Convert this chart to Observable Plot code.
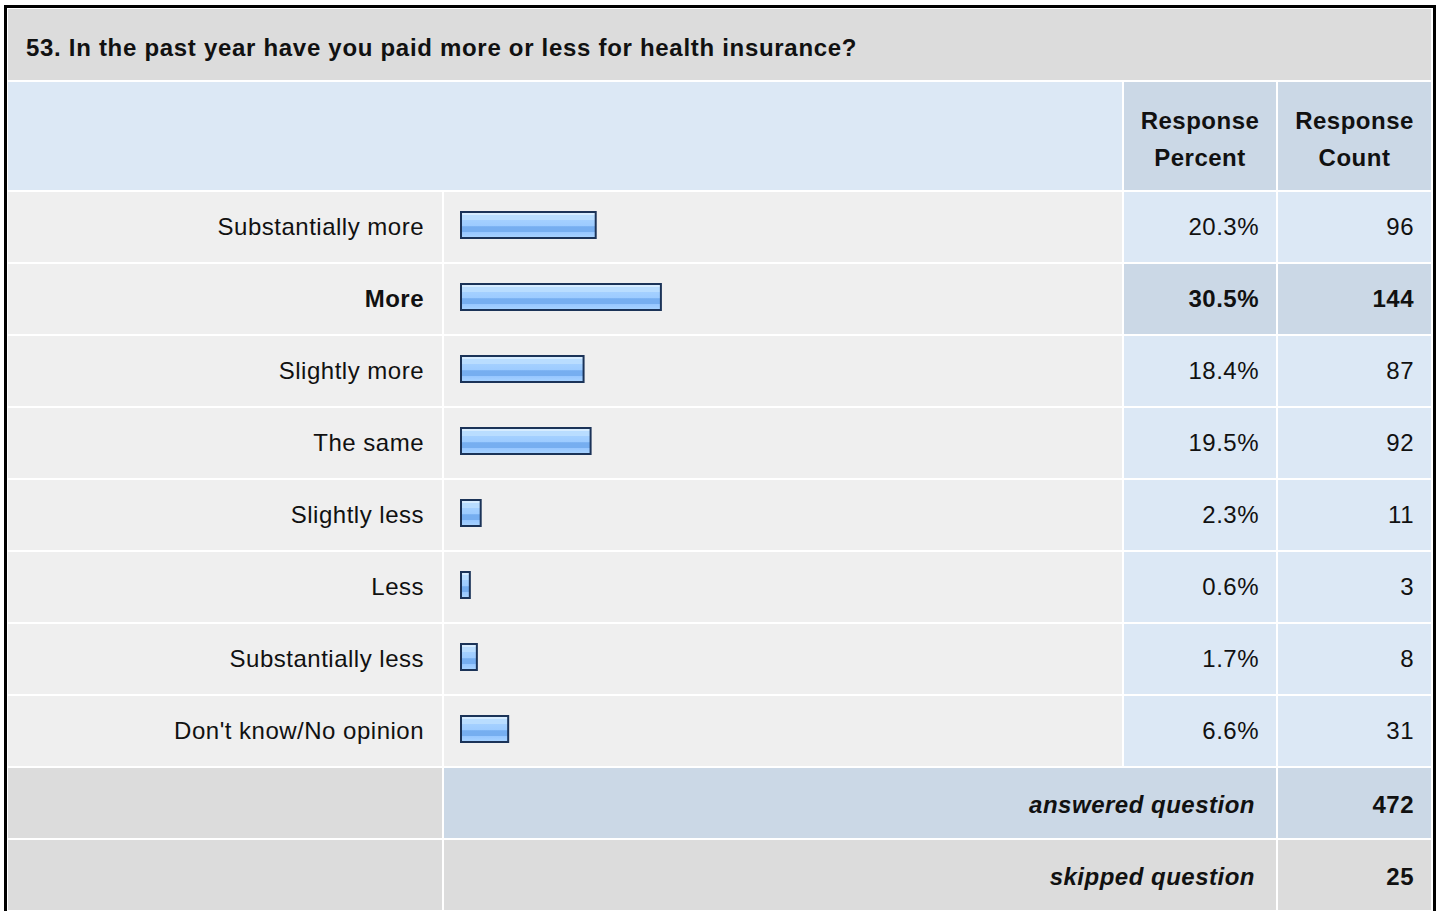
<!DOCTYPE html>
<html>
<head>
<meta charset="utf-8">
<script src="https://cdn.jsdelivr.net/npm/d3@7"></script>
<script src="https://cdn.jsdelivr.net/npm/@observablehq/plot@0.6"></script>
<style>
  html, body { margin: 0; padding: 0; background: #ffffff; overflow: hidden; width: 1440px; height: 911px; }
  body { font-family: "Liberation Sans", Arial, sans-serif; color: #111; }
  #frame { position: absolute; left: 4px; top: 5px; width: 1426px; height: 1000px; border: 3px solid #000; background: #fff; }
  #grid { position: absolute; left: 1px; top: 1px; display: grid;
          grid-template-columns: 434px 678px 152px 153px;
          grid-template-rows: 71px 108px repeat(10, 70px);
          gap: 2px; }
  .cell { box-sizing: border-box; display: flex; align-items: center; font-size: 24px; letter-spacing: 0.5px; }
  .title { grid-column: 1 / 5; background: #dcdcdc; font-weight: bold; padding-left: 18px; padding-top: 6px; letter-spacing: 0.7px; }
  .hblank { grid-column: 1 / 3; background: #dce8f5; }
  .hcol { background: #cbd8e6; font-weight: bold; justify-content: center; text-align: center; line-height: 37px; padding-top: 5px; }
  .label { background: #efefef; justify-content: flex-end; padding-right: 18px; }
  .barcell { background: #efefef; }
  .num { background: #dce8f5; justify-content: flex-end; padding-right: 17px; }
  .hl { background: #cbd8e6; font-weight: bold; }
  .bold { font-weight: bold; }
  .sumlabel { grid-column: 2 / 4; justify-content: flex-end; padding-right: 21px; font-weight: bold; font-style: italic; padding-top: 4px; }
  .sumnum { justify-content: flex-end; padding-right: 17px; font-weight: bold; padding-top: 4px; }
  .grey { background: #dcdcdc; }
  .blue { background: #cbd8e6; }
  #bars { position: absolute; left: 437px; top: 184px; }
</style>
</head>
<body>
<div id="frame">
  <div id="grid"></div>
  <div id="bars"></div>
</div>
<script>
const questionTitle = "53. In the past year have you paid more or less for health insurance?";
const headerPercent = ["Response", "Percent"];
const headerCount = ["Response", "Count"];
const categories = ["Substantially more", "More", "Slightly more", "The same", "Slightly less", "Less", "Substantially less", "Don't know/No opinion"];
const percents = [20.3, 30.5, 18.4, 19.5, 2.3, 0.6, 1.7, 6.6];
const counts = [96, 144, 87, 92, 11, 3, 8, 31];
const highlightedCategory = "More";
const answeredLabel = "answered question";
const answeredCount = 472;
const skippedLabel = "skipped question";
const skippedCount = 25;

const data = categories.map((c, i) => ({label: c, percent: percents[i], count: counts[i]}));

const grid = document.getElementById("grid");
function cell(cls, html) {
  const d = document.createElement("div");
  d.className = "cell " + cls;
  d.innerHTML = html;
  grid.appendChild(d);
  return d;
}
function esc(s) { return String(s).replace(/&/g, "&amp;").replace(/</g, "&lt;"); }

cell("title", esc(questionTitle));
cell("hblank", "");
cell("hcol", headerPercent.map(esc).join("<br>"));
cell("hcol", headerCount.map(esc).join("<br>"));
for (const d of data) {
  const hl = d.label === highlightedCategory;
  cell("label" + (hl ? " bold" : ""), esc(d.label));
  cell("barcell", "");
  cell("num" + (hl ? " hl" : ""), d.percent.toFixed(1) + "%");
  cell("num" + (hl ? " hl" : ""), String(d.count));
}
cell("grey", "");
cell("sumlabel blue", esc(answeredLabel));
cell("sumnum blue", String(answeredCount));
cell("grey", "");
cell("sumlabel grey", esc(skippedLabel));
cell("sumnum grey", String(skippedCount));

const chart = Plot.plot({
  width: 678,
  height: 574,
  marginLeft: 16,
  marginRight: 23,
  marginTop: 0,
  marginBottom: 0,
  x: {domain: [0, 100], axis: null},
  y: {domain: categories, axis: null, paddingInner: 2 / 72, paddingOuter: 0, round: false},
  style: {background: "transparent", overflow: "visible"},
  marks: [
    Plot.barX(data, {
      x: "percent",
      y: "label",
      fill: "url(#barGrad)",
      stroke: "#1b3358",
      strokeWidth: 2,
      insetTop: 20,
      insetBottom: 24,
      insetLeft: 1,
      insetRight: -6
    })
  ]
});

const svg = d3.select(chart);
const grad = svg.insert("defs", ":first-child")
  .append("linearGradient")
  .attr("id", "barGrad")
  .attr("x1", 0).attr("y1", 0).attr("x2", 0).attr("y2", 1);
[
  [0, "#d6ecff"], [0.12, "#d6ecff"], [0.13, "#b9ddff"], [0.3, "#b9ddff"],
  [0.31, "#a4d0ff"], [0.55, "#9ccbff"], [0.56, "#76aef0"], [0.76, "#76aef0"],
  [0.77, "#96c6ff"], [1, "#a9d4ff"]
].forEach(([o, c]) => grad.append("stop").attr("offset", o).attr("stop-color", c));

document.getElementById("bars").appendChild(chart);
</script>
</body>
</html>
